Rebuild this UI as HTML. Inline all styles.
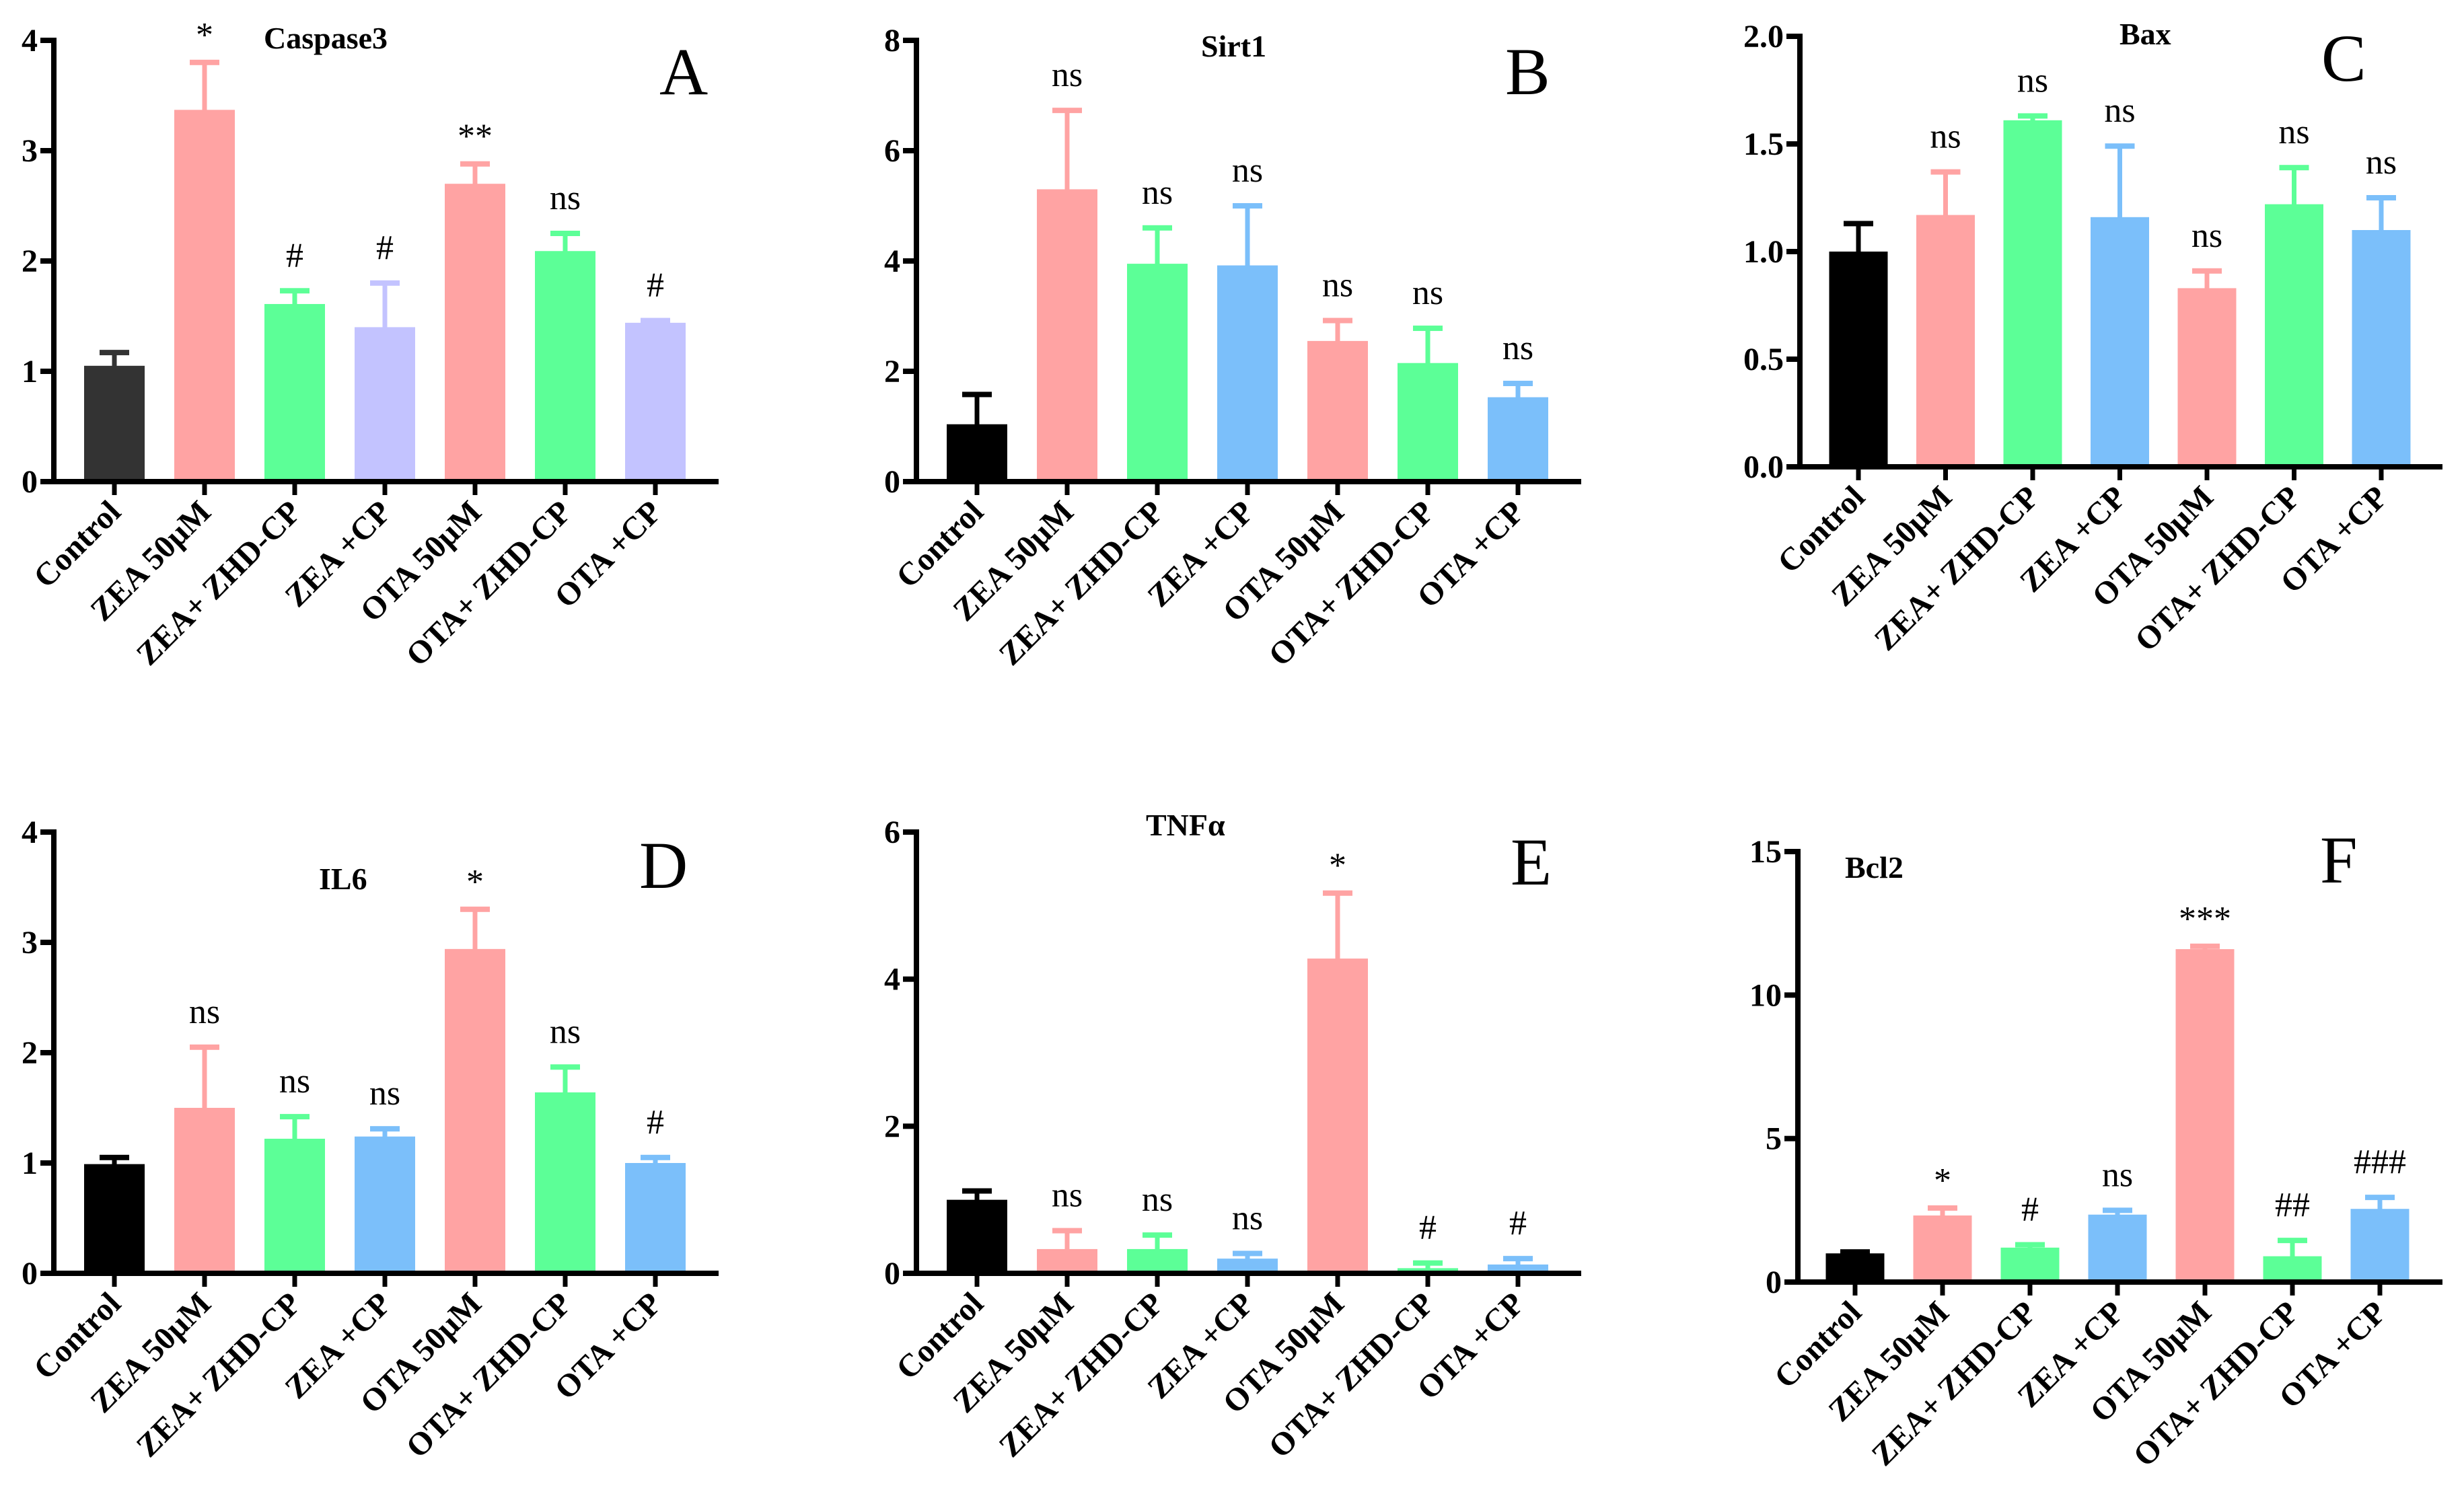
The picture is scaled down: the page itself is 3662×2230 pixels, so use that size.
<!DOCTYPE html>
<html><head><meta charset="utf-8"><style>
html,body{margin:0;padding:0;background:#fff;}
svg{display:block;}
text{font-family:"Liberation Serif","DejaVu Serif",serif;}
</style></head><body>
<svg id="fig" width="3662" height="2230" viewBox="0 0 3662 2230" xmlns="http://www.w3.org/2000/svg"></svg>
<script>
const categories = ["Control","ZEA 50\u00b5M","ZEA+ ZHD-CP","ZEA +CP","OTA 50\u00b5M","OTA+ ZHD-CP","OTA +CP"];
const caspaseMean = [1.05,3.37,1.61,1.40,2.70,2.09,1.44];
const caspaseErr  = [1.17,3.80,1.73,1.80,2.88,2.25,1.46];
const caspaseSig  = ["","*","#","#","**","ns","#"];
const caspaseTicks = [0,1,2,3,4];
const sirtMean = [1.04,5.30,3.95,3.92,2.55,2.15,1.53];
const sirtErr  = [1.58,6.73,4.60,5.00,2.92,2.78,1.78];
const sirtSig  = ["","ns","ns","ns","ns","ns","ns"];
const sirtTicks = [0,2,4,6,8];
const baxMean = [1.00,1.17,1.61,1.16,0.83,1.22,1.10];
const baxErr  = [1.13,1.37,1.63,1.49,0.91,1.39,1.25];
const baxSig  = ["","ns","ns","ns","ns","ns","ns"];
const baxTicks = [0,0.5,1.0,1.5,2.0];
const il6Mean = [0.99,1.50,1.22,1.24,2.94,1.64,1.00];
const il6Err  = [1.05,2.05,1.42,1.31,3.30,1.87,1.05];
const il6Sig  = ["","ns","ns","ns","*","ns","#"];
const il6Ticks = [0,1,2,3,4];
const tnfMean = [1.00,0.33,0.33,0.20,4.28,0.07,0.12];
const tnfErr  = [1.12,0.58,0.52,0.27,5.17,0.14,0.20];
const tnfSig  = ["","ns","ns","ns","*","#","#"];
const tnfTicks = [0,2,4,6];
const bclMean = [1.00,2.32,1.20,2.35,11.6,0.90,2.55];
const bclErr  = [1.05,2.58,1.30,2.50,11.7,1.45,2.95];
const bclSig  = ["","*","#","ns","***","##","###"];
const bclTicks = [0,5,10,15];

const NS="http://www.w3.org/2000/svg";
const svg=document.getElementById('fig');
function mk(tag,attrs,parent){const e=document.createElementNS(NS,tag);for(const k in attrs)e.setAttribute(k,attrs[k]);(parent||svg).appendChild(e);return e;}

const pink="#FFA3A3",green="#5CFF97",blue="#7BBFFA",lav="#C3C3FF";
const panels=[
 {id:"caspase3",title:"Caspase3",letter:"A",mean:caspaseMean,err:caspaseErr,sig:caspaseSig,ticks:caspaseTicks,max:4,dec:0,
  ax:80,top:60,zero:716,first:170,step:134,bw:90,xEnd:1068,tx:392,ty:72,lx:980,ly:140,
  colors:["#333333",pink,green,lav,pink,green,lav]},
 {id:"sirt1",title:"Sirt1",letter:"B",mean:sirtMean,err:sirtErr,sig:sirtSig,ticks:sirtTicks,max:8,dec:0,
  ax:1362,top:60,zero:716,first:1452,step:134,bw:90,xEnd:2350,tx:1785,ty:84,lx:2237,ly:140,
  colors:["#000",pink,green,blue,pink,green,blue]},
 {id:"bax",title:"Bax",letter:"C",mean:baxMean,err:baxErr,sig:baxSig,ticks:baxTicks,max:2,dec:1,
  ax:2675,top:54,zero:694,first:2762,step:129.5,bw:87,xEnd:3630,tx:3150,ty:66,lx:3450,ly:120,
  colors:["#000",pink,green,blue,pink,green,blue]},
 {id:"il6",title:"IL6",letter:"D",mean:il6Mean,err:il6Err,sig:il6Sig,ticks:il6Ticks,max:4,dec:0,
  ax:80,top:1237,zero:1893,first:170,step:134,bw:90,xEnd:1068,tx:474,ty:1322,lx:950,ly:1320,
  colors:["#000",pink,green,blue,pink,green,blue]},
 {id:"tnfa",title:"TNF\u03b1",letter:"E",mean:tnfMean,err:tnfErr,sig:tnfSig,ticks:tnfTicks,max:6,dec:0,
  ax:1362,top:1237,zero:1893,first:1452,step:134,bw:90,xEnd:2350,tx:1703,ty:1242,lx:2245,ly:1315,
  colors:["#000",pink,green,blue,pink,green,blue]},
 {id:"bcl2",title:"Bcl2",letter:"F",mean:bclMean,err:bclErr,sig:bclSig,ticks:bclTicks,max:15,dec:0,
  ax:2672,top:1266,zero:1906,first:2757,step:130,bw:87,xEnd:3630,tx:2742,ty:1305,lx:3448,ly:1312,
  colors:["#000",pink,green,blue,pink,green,blue]}
];

panels.forEach(p=>{
  const g=mk('g',{});
  
  
  const y=v=>p.zero-(v/p.max)*(p.zero-p.top);
  const x=i=>p.first+i*p.step;
  p.mean.forEach((v,i)=>{
    const b=mk('rect',{x:x(i)-p.bw/2,y:y(v),width:p.bw,height:p.zero-y(v),fill:p.colors[i]},g);
    
    
    const e=mk('g',{fill:p.colors[i]},g);
    
    
    mk('rect',{x:x(i)-3.5,y:y(p.err[i]),width:7,height:y(v)-y(p.err[i])+1},e);
    mk('rect',{x:x(i)-22,y:y(p.err[i])-4,width:44,height:8},e);
    if(p.sig[i]){
      const star=p.sig[i].indexOf('*')>=0;
      const t=mk('text',{x:x(i),y:y(p.err[i])-(star?24:36),'font-size':star?52:52,'text-anchor':'middle',fill:'#000'},g);
      t.textContent=p.sig[i];
      
      
    }
  });
  const ya=mk('rect',{x:p.ax-4,y:p.top-4,width:8,height:p.zero-p.top+8,fill:'#000'},g);
  
  
  const xa=mk('rect',{x:p.ax-18,y:p.zero-4,width:p.xEnd-p.ax+18,height:8,fill:'#000'},g);
  
  
  p.ticks.forEach(t=>{
    mk('rect',{x:p.ax-20,y:y(t)-4,width:18,height:8,fill:'#000'},g);
    const tl=mk('text',{x:p.ax-24,y:y(t)+16,'font-size':48,'font-weight':'bold','text-anchor':'end'},g);
    tl.textContent=t.toFixed(p.dec);
    
    
  });
  categories.forEach((c,i)=>{
    mk('rect',{x:x(i)-3.5,y:p.zero,width:7,height:20,fill:'#000'},g);
    const tx=x(i)+12, ty=p.zero+48;
    const l=mk('text',{x:tx,y:ty,'font-size':48,'font-weight':'bold','text-anchor':'end',transform:`rotate(-45 ${tx} ${ty})`},g);
    l.textContent=c;
    
    
  });
  const tt=mk('text',{x:p.tx,y:p.ty,'font-size':46,'font-weight':'bold'},g);
  tt.textContent=p.title;
  
  
  const lt=mk('text',{x:p.lx,y:p.ly,'font-size':100},g);
  lt.textContent=p.letter;
  
  
});
</script>
</body></html>
